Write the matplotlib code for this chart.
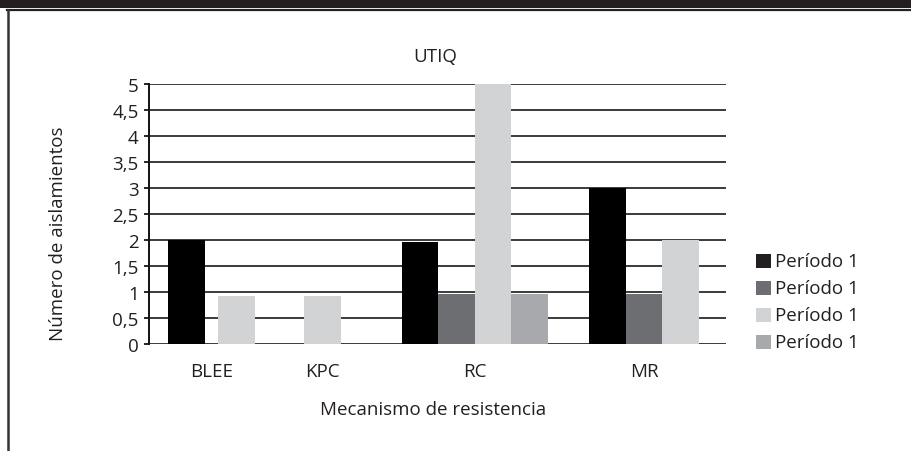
import matplotlib
matplotlib.use("Agg")
import matplotlib.pyplot as plt
from matplotlib.patches import Rectangle
from matplotlib.lines import Line2D

plt.rcParams['font.family'] = ['Open Sans', 'DejaVu Sans']

# Data
categories = ["BLEE", "KPC", "RC", "MR"]
series_labels = ["Período 1", "Período 1", "Período 1", "Período 1"]
serie_1 = [2.0, 0.0, 1.95, 3.0]
serie_2 = [0.0, 0.0, 0.96, 0.96]
serie_3 = [0.92, 0.92, 5.0, 2.0]
serie_4 = [0.0, 0.0, 0.96, 0.0]
y_ticks = [0, 0.5, 1, 1.5, 2, 2.5, 3, 3.5, 4, 4.5, 5]
y_tick_labels = ["0", "0,5", "1", "1,5", "2", "2,5", "3", "3,5", "4", "4,5", "5"]

# Layout: category centres and bar offsets (in bar widths) for each series
cat_centers = [211.5, 322.5, 475.0, 644.0]
offsets = [
    [-0.68, 0.0, -1.5, -1.0],   # serie 1
    [0.0, 0.0, -0.5, 0.0],      # serie 2
    [0.68, 0.0, 0.5, 1.0],      # serie 3
    [0.0, 0.0, 1.5, 0.0],       # serie 4
]
bar_w = 36.5
colors = ["#000000", "#6d6e71", "#d1d3d4", "#a7a9ac"]
legend_colors = ["#231f20", "#6d6e71", "#d1d3d4", "#a7a9ac"]
FS = 13.5
TXT = "#231f20"

W, H = 911, 452
fig = plt.figure(figsize=(W / 100, H / 100), dpi=100)
fig.patch.set_facecolor("white")

# Header band and frame
fig.add_artist(Rectangle((0, 1 - 8.5 / H), 1, 8.5 / H, transform=fig.transFigure,
                         facecolor="#231f20", edgecolor="none"))
fig.add_artist(Line2D([7 / W, 1], [1 - 11 / H, 1 - 11 / H], transform=fig.transFigure,
                      color="#222222", lw=1.6))
fig.add_artist(Line2D([7.5 / W, 7.5 / W], [0, 1 - 11 / H], transform=fig.transFigure,
                      color="#333333", lw=1.8))

ax_l, ax_r, ax_b, ax_t = 149, 726, 345, 84.7
ax = fig.add_axes([ax_l / W, 1 - ax_b / H, (ax_r - ax_l) / W, (ax_b - ax_t) / H])
ax.set_xlim(ax_l, ax_r)
ax.set_ylim(0, 5)

for yv in y_ticks:
    ax.axhline(yv, color="#3a3a3a", lw=1.4, zorder=1)

all_series = [serie_1, serie_2, serie_3, serie_4]
for i, vals in enumerate(all_series):
    xs = [c + o * bar_w for c, o in zip(cat_centers, offsets[i])]
    ax.bar(xs, vals, width=bar_w, color=colors[i], zorder=2, linewidth=0)

ax.set_yticks(y_ticks)
ax.set_yticklabels(y_tick_labels, fontsize=FS, color=TXT)
ax.set_xticks(cat_centers)
ax.set_xticklabels(categories, fontsize=FS, color=TXT)
ax.tick_params(axis="x", length=0, pad=13)
ax.tick_params(axis="y", length=3.5, width=1.2, pad=4, direction="out")
for s in ["top", "right", "bottom"]:
    ax.spines[s].set_visible(False)
ax.spines["left"].set_linewidth(1.4)
ax.spines["left"].set_color("#111111")

fig.text(435 / W, 1 - 57 / H, "UTIQ", ha="center", va="center", fontsize=FS, color=TXT)
fig.text(58 / W, 1 - 234 / H, "Número de aislamientos", ha="center", va="center",
         rotation=90, fontsize=FS, color=TXT)
fig.text(433 / W, 1 - 410 / H, "Mecanismo de resistencia", ha="center", va="center",
         fontsize=FS, color=TXT)

# Legend
for i, lab in enumerate(series_labels):
    yc = 262 + 27 * i
    fig.add_artist(Rectangle((756 / W, 1 - (yc + 7) / H), 14.5 / W, 14.5 / H,
                             transform=fig.transFigure, facecolor=legend_colors[i],
                             edgecolor="none"))
    fig.text(775 / W, 1 - yc / H, lab, ha="left", va="center", fontsize=FS, color=TXT)

fig.savefig("out.png", dpi=100)
